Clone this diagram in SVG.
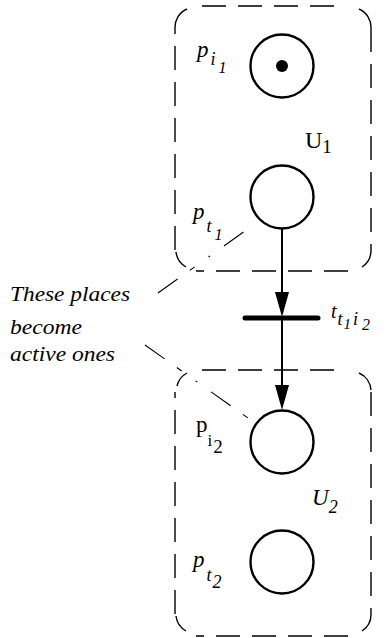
<svg xmlns="http://www.w3.org/2000/svg" width="385" height="638" viewBox="0 0 385 638">
<style>
.box{fill:none;stroke:#000;stroke-width:1.4;stroke-dasharray:24 12}
.corner{fill:none;stroke:#000;stroke-width:1.4}
.place{fill:#fff;stroke:#000;stroke-width:2.4}
.arc{fill:none;stroke:#000;stroke-width:2}
.head{fill:#000;stroke:none}
.lead{fill:none;stroke:#000;stroke-width:1.1;stroke-dasharray:24 15 6 17 2 17}
.t{font-family:'Liberation Serif','DejaVu Serif',serif}
.it{font-style:italic}
</style>
<g id="U1">
<path class="box" d="M202,6 H346 M371,28 V250 M348,271 H196 M175,250 V28"/>
<path class="corner" d="M175,28 A20,20 0 0 1 187,9 M359,9 A20,20 0 0 1 371,28 M371,250 A20,20 0 0 1 362,267 M186,267 A20,20 0 0 1 176,252"/>
<text class="t" x="305" y="148" font-size="24">U<tspan font-size="19" dy="5">1</tspan></text>
</g>
<g id="U2">
<path class="box" d="M202,370 H346 M371,392 V614 M348,636 H196 M175,614 V392"/>
<path class="corner" d="M177,386 A20,20 0 0 1 187,373 M359,373 A20,20 0 0 1 371,390 M371,614 A20,20 0 0 1 362,631 M186,631 A20,20 0 0 1 176,616"/>
<text class="t it" x="312" y="505" font-size="23">U<tspan font-size="18" dy="8">2</tspan></text>
</g>
<g id="connectors">
<line class="arc" x1="282" y1="229" x2="282" y2="300"/>
<polygon class="head" points="275,292 289,292 282,317"/>
<line class="arc" x1="282" y1="318" x2="282" y2="395"/>
<polygon class="head" points="275,385 289,385 282,410"/>
<line class="lead" x1="158" y1="293" x2="245" y2="231"/>
<line class="lead" x1="145" y1="345" x2="248" y2="418"/>
</g>
<g id="p_i1">
<circle class="place" cx="282" cy="66" r="31.5"/>
<circle cx="282" cy="66" r="6" fill="#000"/>
<text class="t it" x="197" y="57" font-size="23">p<tspan font-size="18" dy="8" dx="2">i</tspan><tspan font-size="16" dy="8" dx="3">1</tspan></text>
</g>
<g id="p_t1">
<circle class="place" cx="282" cy="197" r="31.5"/>
<text class="t it" x="193" y="219" font-size="23">p<tspan font-size="18" dy="13" dx="2">t</tspan><tspan font-size="16" dy="8" dx="3">1</tspan></text>
</g>
<g id="t_t1i2">
<line x1="245" y1="318" x2="318" y2="318" stroke="#000" stroke-width="5" stroke-linecap="round"/>
<text class="t it" x="331" y="318" font-size="20">t<tspan font-size="18" dy="7" dx="1">t</tspan><tspan font-size="15" dy="4" dx="1">1</tspan><tspan font-size="18" dy="-4" dx="2">i</tspan><tspan font-size="16" dy="5" dx="4">2</tspan></text>
</g>
<g id="p_i2">
<circle class="place" cx="282" cy="442" r="31.5"/>
<text class="t" x="196" y="432" font-size="23">p<tspan font-size="17" dy="14">i</tspan><tspan font-size="19" dy="7" dx="1">2</tspan></text>
</g>
<g id="p_t2">
<circle class="place" cx="282" cy="562" r="31.5"/>
<text class="t it" x="193" y="567" font-size="23">p<tspan font-size="18" dy="14" dx="2">t</tspan><tspan font-size="18" dy="7" dx="1">2</tspan></text>
</g>
<g id="note">
<text class="t it" font-size="22"><tspan x="10" y="301" textLength="120" lengthAdjust="spacingAndGlyphs">These places</tspan><tspan x="10" y="334" textLength="72" lengthAdjust="spacingAndGlyphs">become</tspan><tspan x="10" y="361" textLength="105" lengthAdjust="spacingAndGlyphs">active ones</tspan></text>
</g>
</svg>
